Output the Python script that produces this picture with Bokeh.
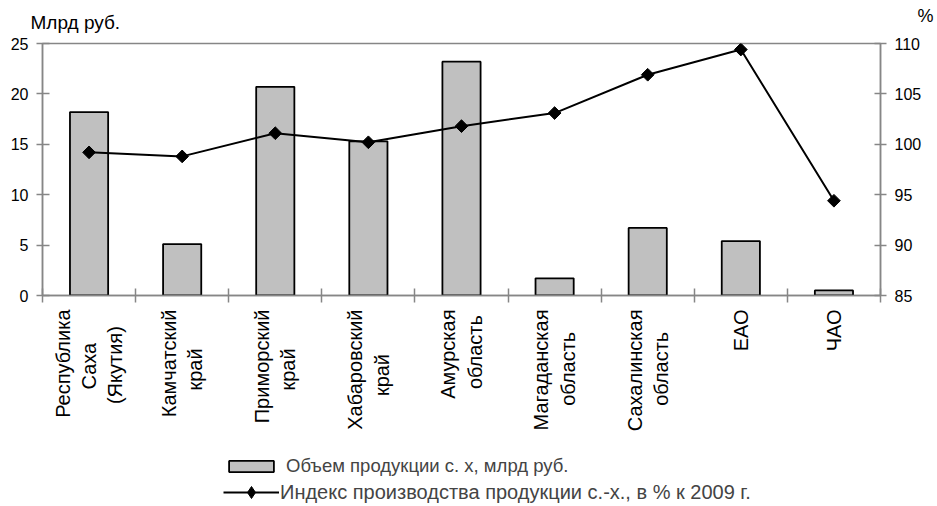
import math
from bokeh.plotting import figure
from bokeh.layouts import column
from bokeh.models import (Range1d, LinearAxis, FixedTicker, Legend, LegendItem,
                          Label, ColumnDataSource)
from bokeh.embed import file_html
from bokeh.resources import INLINE

NB = "\u00a0"
region_labels = [
    ["Республика", "Саха" + NB * 6, "(Якутия)" + NB * 3],
    ["Камчатский", "край" + NB * 7],
    ["Приморский", "край" + NB * 7],
    ["Хабаровский", "край" + NB * 8],
    ["Амурская", "область" + NB * 1],
    ["Магаданская", "область" + NB * 4],
    ["Сахалинская", "область" + NB * 4],
    ["ЕАО"],
    ["ЧАО"],
]
volume = [18.2, 5.1, 20.7, 15.3, 23.2, 1.7, 6.7, 5.4, 0.5]
index_pct = [99.2, 98.8, 101.1, 100.2, 101.8, 103.1, 106.9, 109.4, 94.4]
left_ticks = [0, 5, 10, 15, 20, 25]
right_ticks = [85, 90, 95, 100, 105, 110]
bar_label = "Объем продукции с. х, млрд руб."
line_label = "Индекс производства продукции с.-х., в % к 2009 г."
left_unit = "Млрд руб."
right_unit = "%"

n = len(volume)
centers = [i + 0.5 for i in range(n)]
bounds = [float(i) for i in range(n + 1)]

FONT = "Liberation Sans"
GRAY = "#868686"
BAR_FILL = "#c0c0c0"
W = 937
MAIN_H = 446
LEG_H = 506 - MAIN_H

# --- main chart ---
p = figure(width=W, height=MAIN_H, output_backend="svg", toolbar_location=None,
           x_range=Range1d(0, n), y_range=Range1d(left_ticks[0], left_ticks[-1]),
           min_border_left=42, min_border_right=57, min_border_top=43,
           min_border_bottom=MAIN_H - 295)
p.extra_y_ranges = {"pct": Range1d(right_ticks[0], right_ticks[-1])}
p.xaxis.visible = False
p.yaxis.visible = False
p.grid.visible = False
p.outline_line_color = GRAY
p.outline_line_width = 1.5

src = ColumnDataSource(dict(x=centers, vol=volume, idx=index_pct))

bar_style = dict(fill_color=BAR_FILL, line_color="black", line_width=1.8)
line_style = dict(line_color="black", line_width=2)

p.vbar(x="x", top="vol", bottom=0, width=0.41, source=src, **bar_style)
p.line(x="x", y="idx", source=src, y_range_name="pct", **line_style)
p.scatter(x="x", y="idx", source=src, y_range_name="pct", marker="square",
          angle=math.pi / 4, size=9, fill_color="black", line_color="black")

def style_axis(ax):
    ax.axis_line_color = GRAY
    ax.axis_line_width = 1.5
    ax.major_tick_line_color = GRAY
    ax.major_tick_line_width = 1.5
    ax.minor_tick_line_color = GRAY
    ax.minor_tick_line_width = 1.5
    ax.major_label_text_font = FONT
    ax.major_label_text_color = "black"

xax = LinearAxis(ticker=FixedTicker(ticks=centers, minor_ticks=bounds),
                 major_label_overrides={c: "\n".join(r) for c, r in zip(centers, region_labels)})
style_axis(xax)
xax.major_tick_in = 0
xax.major_tick_out = 0
xax.minor_tick_in = 7
xax.minor_tick_out = 7
xax.major_label_orientation = math.pi / 2
xax.major_label_standoff = 7
xax.major_label_text_font_size = "20px"
p.add_layout(xax, "below")

lax = LinearAxis(ticker=FixedTicker(ticks=left_ticks, minor_ticks=[]))
style_axis(lax)
lax.major_tick_in = 7
lax.major_tick_out = 6
lax.major_label_standoff = 8
lax.major_label_text_font_size = "16px"
p.add_layout(lax, "left")

rax = LinearAxis(y_range_name="pct", ticker=FixedTicker(ticks=right_ticks, minor_ticks=[]))
style_axis(rax)
rax.major_tick_in = 6
rax.major_tick_out = 6
rax.major_label_standoff = 8
rax.major_label_text_font_size = "16px"
p.add_layout(rax, "right")

p.add_layout(Label(x=-12, y=21, x_units="screen", y_units="screen", text=left_unit,
                   text_font=FONT, text_font_size="19px", text_color="black",
                   text_baseline="alphabetic"), "above")
p.add_layout(Label(x=891, y=7, x_units="screen", y_units="screen", text=right_unit,
                   text_font=FONT, text_font_size="18px", text_color="black",
                   text_baseline="alphabetic", text_align="right"), "above")

# --- legend strip (legend glyphs only; its renderers are hidden) ---
lg = figure(width=W, height=LEG_H, output_backend="svg", toolbar_location=None,
            x_axis_type=None, y_axis_type=None, x_range=Range1d(0, 1), y_range=Range1d(0, 1),
            min_border_left=42, min_border_right=57, min_border_top=0, min_border_bottom=0,
            outline_line_color=None)
lg.grid.visible = False
lb = lg.vbar(x="x", top="vol", bottom=0, width=0.41, source=src, visible=False, **bar_style)
ll = lg.line(x="x", y="idx", source=src, visible=False, **line_style)
lm = lg.scatter(x="x", y="idx", source=src, visible=False, marker="diamond",
                size=12, fill_color="black", line_color="black")

common = dict(orientation="vertical", border_line_color=None, background_fill_alpha=0,
              inactive_fill_alpha=0, label_text_font=FONT, glyph_width=56,
              padding=0, margin=0, spacing=0)
legend_bar = Legend(items=[LegendItem(label=bar_label, renderers=[lb])],
                    location=(181, 29), label_text_font_size="18.5px",
                    glyph_height=14, label_height=14, label_standoff=7, **common)
legend_line = Legend(items=[LegendItem(label=line_label, renderers=[ll, lm])],
                     location=(181, -1), label_text_font_size="20px",
                     glyph_height=30, label_height=14, label_standoff=1, **common)
lg.add_layout(legend_bar, "center")
lg.add_layout(legend_line, "center")

open("out.html", "w").write(file_html(column(p, lg), INLINE))
